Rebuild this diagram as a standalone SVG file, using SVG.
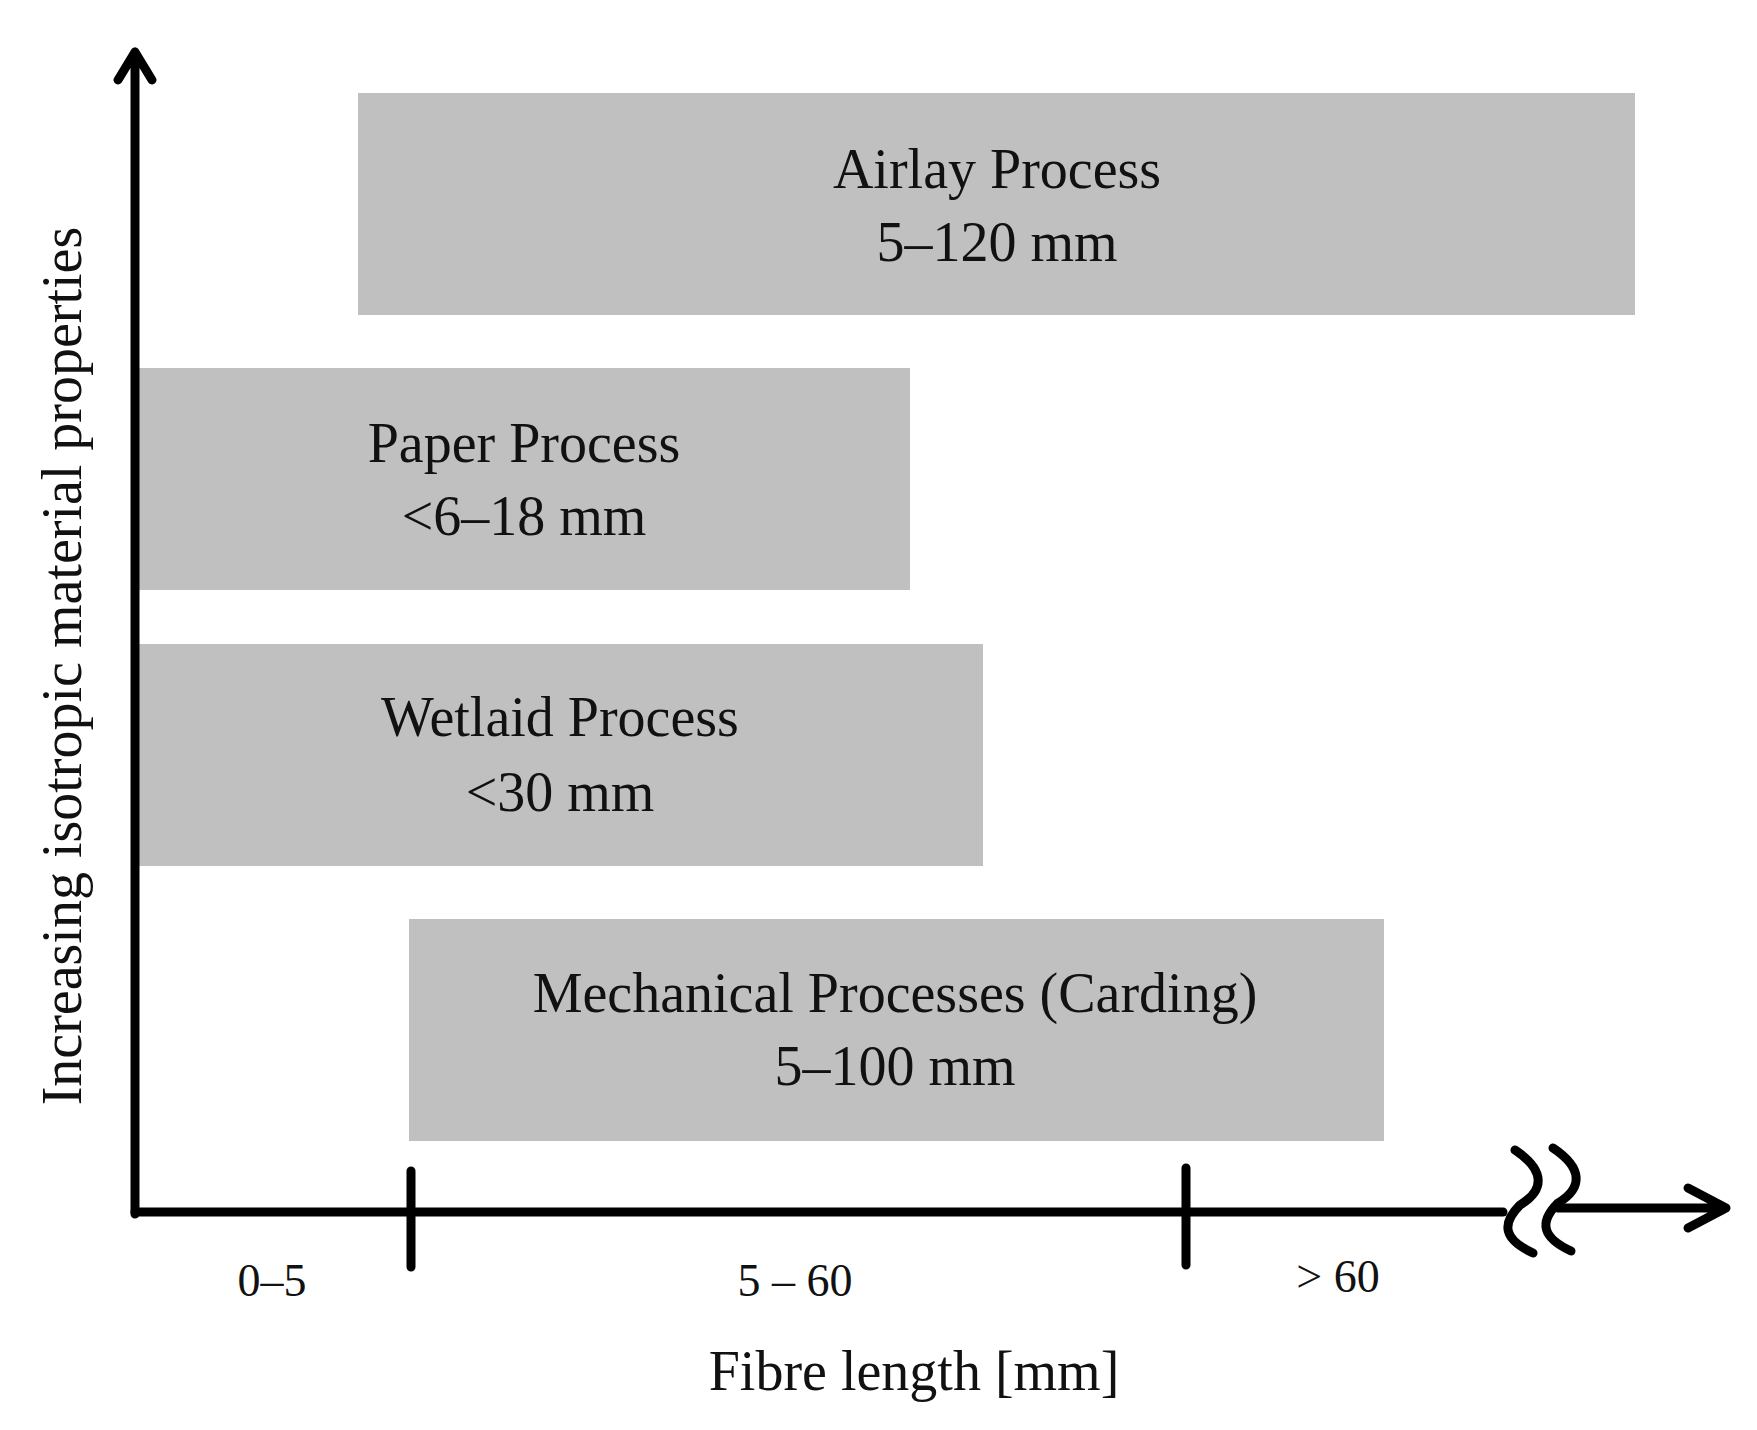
<svg xmlns="http://www.w3.org/2000/svg" width="1757" height="1430" viewBox="0 0 1757 1430">
<style>
.box{fill:#c0c0c0}
.t{font-family:"Liberation Serif",serif;font-size:56px;fill:#111;text-anchor:middle}
.s{font-family:"Liberation Serif",serif;font-size:46px;fill:#111;text-anchor:middle}
.ax{stroke:#000;stroke-width:9;fill:none;stroke-linecap:round;stroke-linejoin:round}
</style>
<rect width="1757" height="1430" fill="#fff"/>
<g id="airlay"><rect class="box" x="358" y="93" width="1277" height="222"/><text class="t" x="997" y="188">Airlay Process</text><text class="t" x="997" y="261">5–120 mm</text></g>
<g id="paper"><rect class="box" x="137" y="368" width="773" height="222"/><text class="t" x="524" y="462">Paper Process</text><text class="t" x="524" y="535">&lt;6–18 mm</text></g>
<g id="wetlaid"><rect class="box" x="137" y="644" width="846" height="222"/><text class="t" x="560" y="736">Wetlaid Process</text><text class="t" x="560" y="811">&lt;30 mm</text></g>
<g id="mechanical"><rect class="box" x="409" y="919" width="975" height="222"/><text class="t" x="895" y="1012">Mechanical Processes (Carding)</text><text class="t" x="895" y="1085">5–100 mm</text></g>
<g id="connectors">
<path class="ax" d="M135 1214 V52 M118 80 L135 52 L152 80"/>
<path class="ax" d="M135 1212 H1503"/>
<path class="ax" d="M1558 1208 H1726 M1688 1188 L1726 1208 L1688 1228"/>
<path class="ax" d="M1515 1150 C1545 1170 1545 1190 1520 1205 C1500 1225 1505 1240 1533 1253"/>
<path class="ax" d="M1553 1148 C1583 1168 1583 1188 1558 1203 C1538 1223 1543 1238 1571 1251"/>
<path class="ax" d="M411 1171 V1267 M1186 1168 V1265"/>
</g>
<text class="s" x="272" y="1296">0–5</text>
<text class="s" x="795" y="1296">5 – 60</text>
<text class="s" x="1338" y="1292">&gt; 60</text>
<text class="t" x="914" y="1390">Fibre length [mm]</text>
<text class="t" transform="translate(81 666) rotate(-90)">Increasing isotropic material properties</text>
</svg>
